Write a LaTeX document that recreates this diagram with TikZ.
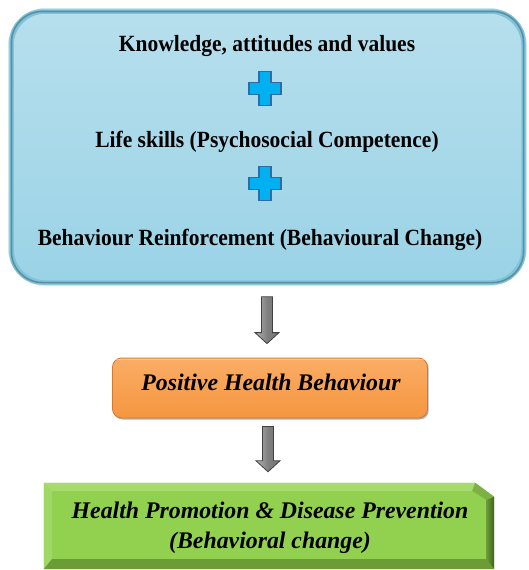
\documentclass[tikz,border=0pt]{standalone}
\usepackage{fontspec}
\setmainfont{Liberation Serif}
\usetikzlibrary{calc,shadows}
\definecolor{rimblue}{HTML}{7DC3DA}
\definecolor{rimdark}{HTML}{5F8E9F}
\definecolor{filltop}{HTML}{B7DFED}
\definecolor{fillbot}{HTML}{9AD3E6}
\definecolor{plusfill}{HTML}{00B0F0}
\definecolor{plusline}{HTML}{2E6DA4}
\definecolor{orangetop}{HTML}{FBAD66}
\definecolor{orangebot}{HTML}{F5963F}
\definecolor{orangeline}{HTML}{D37A30}
\definecolor{greenface}{HTML}{92D050}
\definecolor{greenlight}{HTML}{A8DB6E}
\definecolor{greenleft}{HTML}{A0D865}
\definecolor{greendark}{HTML}{3F6419}
\definecolor{greenbot}{HTML}{6C9C36}
\definecolor{arrowline}{HTML}{404040}
\newcommand\plusicon[1]{%
  \draw[plusstyle] ($(#1)+(-6,-17)$) -- ($(#1)+(6,-17)$) -- ($(#1)+(6,-6)$) -- ($(#1)+(16,-6)$) -- ($(#1)+(16,6)$) -- ($(#1)+(6,6)$) -- ($(#1)+(6,17)$) -- ($(#1)+(-6,17)$) -- ($(#1)+(-6,6)$) -- ($(#1)+(-16,6)$) -- ($(#1)+(-16,-6)$) -- ($(#1)+(-6,-6)$) -- cycle;}
\newcommand\blockarrow[2]{%
  \draw[blockarrowstyle] ($(#1)+(-5.5,0)$) -- ($(#2)+(-5.5,-11)$) -- ($(#2)+(-12,-11)$) -- (#2) -- ($(#2)+(12,-11)$) -- ($(#2)+(5.5,-11)$) -- ($(#1)+(5.5,0)$) -- cycle;}
\tikzset{
  topbox/.style={rectangle, rounded corners=34pt, minimum width=513pt, minimum height=272pt,
    top color=filltop, bottom color=fillbot, draw=rimblue, line width=5.5pt},
  toptext/.style={anchor=base, font=\fontsize{21.5}{26}\selectfont\bfseries, inner sep=0pt, yscale=1.08},
  plusstyle/.style={fill=plusfill, draw=plusline, line width=1.2pt, line join=miter},
  blockarrowstyle/.style={left color=gray!60, right color=gray!90!black, middle color=gray, draw=arrowline, line width=0.8pt},
  orangebox/.style={rectangle, rounded corners=9pt, minimum width=315pt, minimum height=60pt,
    top color=orangetop, bottom color=orangebot, draw=orangeline, line width=0.8pt,
    drop shadow={shadow xshift=1.2pt, shadow yshift=-1.5pt, fill=black, opacity=0.3}},
  greenbox/.style={rectangle, minimum width=450pt, minimum height=86pt, inner sep=0pt},
  itext/.style={anchor=base, font=\fontsize{23.8}{28}\selectfont\bfseries\itshape, inner sep=0pt}
}
\begin{document}
\begin{tikzpicture}[x=1pt,y=-1pt]
\useasboundingbox (0,0) rectangle (528,570);
% top box
\node[topbox] (top) at (267.5,147) {};
\draw[white, opacity=0.6, line width=1pt, rounded corners=33pt]
  ($(top.north west)+(0.5,0.5)$) rectangle ($(top.south east)+(-0.5,-0.5)$);
\draw[rimdark, line width=1.6pt, rounded corners=31pt]
  ($(top.north west)+(3.2,3.2)$) rectangle ($(top.south east)+(-3.2,-3.2)$);
\node[toptext] (k) at (267,51.7) {Knowledge, attitudes and values};
\coordinate (p1) at (265,88.5);
\plusicon{p1}
\node[toptext] (l) at (267,147.7) {Life skills (Psychosocial Competence)};
\coordinate (p2) at (265,183.5);
\plusicon{p2}
\node[toptext] (b) at (260,245.7) {Behaviour Reinforcement (Behavioural Change)};
% orange box
\node[orangebox] (pos) at (270,388) {};
\draw[white, opacity=0.35, line width=1.2pt, rounded corners=8pt]
  ($(pos.north west)+(2,2)$) -- ($(pos.north east)+(-2,2)$);
\node[itext] (post) at (271,390.7) {Positive Health Behaviour};
% green box
\node[greenbox] (hp) at (269,526) {};
\fill[greenface] (hp.north west) -- ($(hp.north east)+(-19,0)$) -- ($(hp.north east)+(0,14)$) -- (hp.south east) -- (hp.south west) -- cycle;
\fill[greenlight] (hp.north west) -- ($(hp.north east)+(-19,0)$) -- ($(hp.north east)+(-22,8)$) -- ($(hp.north west)+(8,8)$) -- cycle;
\fill[greenleft] (hp.north west) -- ($(hp.north west)+(8,8)$) -- ($(hp.south west)+(8,-10)$) -- (hp.south west) -- cycle;
\fill[greenface!85!black] ($(hp.north east)+(-19,0)$) -- ($(hp.north east)+(0,14)$) -- ($(hp.north east)+(-8,17)$) -- ($(hp.north east)+(-22,8)$) -- cycle;
\shade[left color=greenface!75!black, right color=greendark] ($(hp.north east)+(-8,17)$) -- ($(hp.north east)+(0,14)$) -- (hp.south east) -- ($(hp.south east)+(-8,-10)$) -- cycle;
\fill[greenbot] (hp.south west) -- ($(hp.south west)+(8,-10)$) -- ($(hp.south east)+(-8,-10)$) -- (hp.south east) -- cycle;
\node[itext] (h1) at (270,518) {Health Promotion \& Disease Prevention};
\node[itext] (h2) at (270,548) {(Behavioral change)};
% arrows
\blockarrow{$(top.south)+(-0.5,11)$}{$(pos.north)+(-3,-14)$}
\blockarrow{$(pos.south)+(-2,8)$}{$(hp.north)+(-1,-11)$}
\end{tikzpicture}
\end{document}
